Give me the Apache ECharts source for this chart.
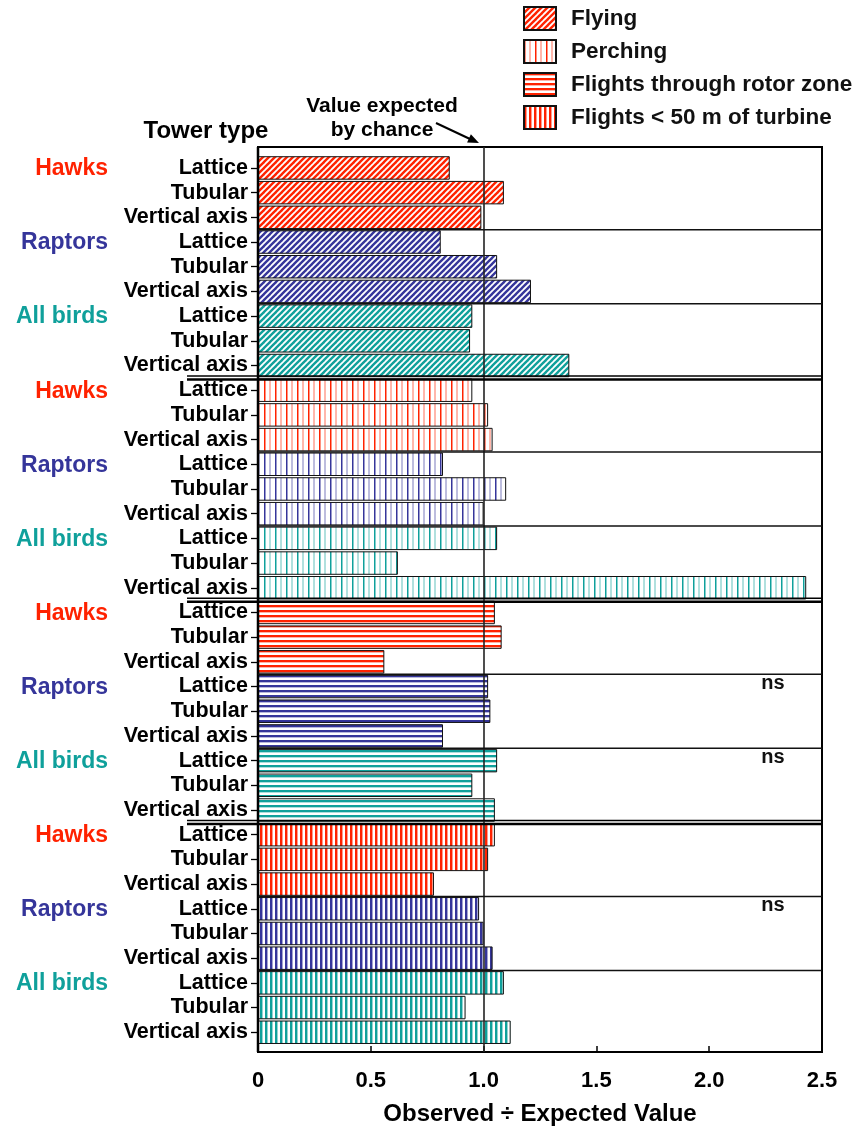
<!DOCTYPE html>
<html>
<head>
<meta charset="utf-8">
<script src="https://cdn.jsdelivr.net/npm/echarts@6/dist/echarts.min.js"></script>
<style>
  html, body { margin: 0; padding: 0; background: #fff; }
  #chart { width: 855px; height: 1128px; }
</style>
</head>
<body>
<div id="chart"></div>
<script>
// ---- data ----
const towerTypes = ['Lattice', 'Tubular', 'Vertical axis'];
const birdGroups = ['Hawks', 'Raptors', 'All birds'];
const behaviours = ['Flying', 'Perching', 'Flights through rotor zone', 'Flights < 50 m of turbine'];
// Observed ÷ expected; order: Hawks (L, T, V), Raptors (L, T, V), All birds (L, T, V)
const flying    = [0.85, 1.09, 0.99, 0.81, 1.06, 1.21, 0.95, 0.94, 1.38];
const perching  = [0.95, 1.02, 1.04, 0.82, 1.10, 1.00, 1.06, 0.62, 2.43];
const rotorZone = [1.05, 1.08, 0.56, 1.02, 1.03, 0.82, 1.06, 0.95, 1.05];
const within50m = [1.05, 1.02, 0.78, 0.98, 1.00, 1.04, 1.09, 0.92, 1.12];
// groups that are not significant: [behaviour index, bird group index]
const notSignificant = [[2, 1], [2, 2], [3, 1]];
const xTicks = [0, 0.5, 1.0, 1.5, 2.0, 2.5];
const expectedRatio = 1.0;

// ---- styling ----
const FONT = '"Liberation Sans", Arial, Helvetica, sans-serif';
const groupColors = ['#ff2200', '#35359a', '#0fa09b'];
const hatchKinds = ['diagonal', 'thinVertical', 'horizontal', 'denseVertical'];

function makePattern(kind, color) {
  const c = document.createElement('canvas');
  let w = 6, h = 6;
  if (kind === 'thinVertical') { w = 11; h = 4; }
  if (kind === 'horizontal') { w = 4; h = 5; }
  if (kind === 'denseVertical') { w = 5; h = 4; }
  c.width = w; c.height = h;
  const ctx = c.getContext('2d');
  ctx.fillStyle = '#ffffff';
  ctx.fillRect(0, 0, w, h);
  ctx.fillStyle = color;
  ctx.strokeStyle = color;
  if (kind === 'diagonal') {
    ctx.lineWidth = 2.4;
    for (let k = -1; k <= 1; k++) {
      ctx.beginPath();
      ctx.moveTo(k * w - 1, h + 1);
      ctx.lineTo(k * w + w + 1, -1);
      ctx.stroke();
    }
  } else if (kind === 'thinVertical') {
    ctx.fillRect(0, 0, 1.5, h);
    ctx.globalAlpha = 0.65;
    ctx.fillRect(5.5, 0, 1, h);
  } else if (kind === 'horizontal') {
    ctx.fillRect(0, 0, w, 2);
    ctx.globalAlpha = 0.35;
    ctx.fillRect(0, 2, w, 1);
  } else {
    ctx.fillRect(0, 0, 2, h);
    ctx.globalAlpha = 0.45;
    ctx.fillRect(2, 0, 1, h);
  }
  return { image: c, repeat: 'repeat' };
}

const patterns = hatchKinds.map(k => groupColors.map(col => makePattern(k, col)));

// ---- rows: behaviour panel -> bird group -> tower type ----
const panels = [flying, perching, rotorZone, within50m];
const rowsPerGroup = towerTypes.length;
const rowsPerPanel = birdGroups.length * rowsPerGroup;
const rowKeys = [];
const rowTower = [];
panels.forEach((_, p) => birdGroups.forEach((g, gi) => towerTypes.forEach(t => {
  rowKeys.push(behaviours[p] + ' | ' + g + ' | ' + t);
  rowTower.push(t);
})));

const barSeries = panels.map((vals, p) => ({
  name: behaviours[p],
  type: 'bar',
  xAxisIndex: 1,
  yAxisIndex: 1,
  barWidth: '95%',
  barGap: '-100%',
  itemStyle: { color: patterns[p][0], borderColor: '#111', borderWidth: 1 },
  emphasis: { disabled: true },
  data: rowKeys.map((_, r) => {
    if (Math.floor(r / rowsPerPanel) !== p) return '-';
    const k = r % rowsPerPanel;
    const g = Math.floor(k / rowsPerGroup);
    return { value: vals[k], itemStyle: { color: patterns[p][g] } };
  })
}));

const chart = echarts.init(document.getElementById('chart'), null, { renderer: 'canvas' });

const option = {
  animation: false,
  backgroundColor: '#ffffff',
  legend: {
    data: behaviours,
    orient: 'vertical',
    left: 518,
    top: 1,
    icon: 'rect',
    itemWidth: 32,
    itemHeight: 23,
    itemGap: 8,
    selectedMode: false,
    textStyle: { fontFamily: FONT, fontSize: 22.5, fontWeight: 'bold', color: '#111', padding: [0, 0, 0, 10] }
  },
  grid: [
    // outer frame holding the value axis
    { left: 258, top: 147, width: 564, height: 905, containLabel: false, outerBoundsMode: 'none',
      show: true, borderColor: '#000', borderWidth: 2, backgroundColor: 'transparent' },
    // bar rows
    { left: 258, top: 155.6, width: 564, height: 889, containLabel: false, outerBoundsMode: 'none' }
  ],
  xAxis: [
    {
      gridIndex: 0, type: 'value',
      min: xTicks[0], max: xTicks[xTicks.length - 1], interval: xTicks[1] - xTicks[0],
      axisLine: { show: false },
      axisTick: { show: true, inside: true, length: 6, lineStyle: { color: '#000', width: 1.5 } },
      splitLine: { show: false },
      axisLabel: {
        margin: 18, fontFamily: FONT, fontSize: 22, fontWeight: 'bold', color: '#000',
        formatter: v => (v === 0 ? '0' : v.toFixed(1))
      },
      name: 'Observed ÷ Expected Value',
      nameLocation: 'middle',
      nameGap: 50,
      nameTextStyle: { fontFamily: FONT, fontSize: 24, fontWeight: 'bold', color: '#000' }
    },
    {
      gridIndex: 1, type: 'value',
      min: xTicks[0], max: xTicks[xTicks.length - 1],
      show: false
    }
  ],
  yAxis: [
    { gridIndex: 0, type: 'value', min: 0, max: 1, show: false },
    {
      gridIndex: 1, type: 'category', inverse: true,
      data: rowKeys,
      axisLine: { show: false },
      axisTick: { show: true, alignWithLabel: true, length: 7, lineStyle: { color: '#000', width: 1.3 } },
      axisLabel: {
        interval: 0, margin: 10,
        fontFamily: FONT, fontSize: 21.5, fontWeight: 'bold', color: '#000',
        formatter: (v, i) => rowTower[i]
      }
    }
  ],
  series: barSeries.concat([{
    name: 'expected',
    type: 'line',
    xAxisIndex: 0,
    yAxisIndex: 0,
    data: [],
    markLine: {
      silent: true,
      symbol: ['none', 'none'],
      label: { show: false },
      lineStyle: { color: '#222', width: 1.6, type: 'solid' },
      data: [{ xAxis: expectedRatio }]
    }
  }])
};

chart.setOption(option);

// ---- overlay: separators, group names, notes ----
const rowY = i => chart.convertToPixel({ yAxisIndex: 1 }, i);
const between = i => (rowY(i) + rowY(i + 1)) / 2;
const xLeft = chart.convertToPixel({ xAxisIndex: 1 }, xTicks[0]);
const xRight = chart.convertToPixel({ xAxisIndex: 1 }, xTicks[xTicks.length - 1]);
const frameTop = chart.convertToPixel({ yAxisIndex: 0 }, 1);
const frameBottom = chart.convertToPixel({ yAxisIndex: 0 }, 0);

const g = [];
const line = (x1, y1, x2, y2, w, c) => g.push({
  type: 'line', z: 20, silent: true,
  shape: { x1, y1, x2, y2 },
  style: { stroke: c || '#000', lineWidth: w }
});
const text = (x, y, s, font, color, align) => g.push({
  type: 'text', z: 20, silent: true, x, y,
  style: {
    text: s, font, fill: color || '#000',
    align: align || 'center', verticalAlign: 'middle',
    textAlign: align || 'center', textVerticalAlign: 'middle'
  }
});

// left axis line
line(xLeft, frameTop, xLeft, frameBottom, 2.5);

for (let p = 0; p < panels.length; p++) {
  const base = p * rowsPerPanel;
  // thin lines between bird groups
  for (let gi = 1; gi < birdGroups.length; gi++) {
    const y = between(base + gi * rowsPerGroup - 1);
    line(xLeft, y, xRight, y, 1.4, '#111');
  }
  // double rule between behaviour panels
  if (p < panels.length - 1) {
    const y = between(base + rowsPerPanel - 1);
    line(187, y - 1.8, xRight, y - 1.8, 1.6);
    line(187, y + 1.6, xRight, y + 1.6, 2.4);
  }
  // bird group names
  birdGroups.forEach((name, gi) => {
    text(108, rowY(base + gi * rowsPerGroup) + 1, name, 'bold 23px ' + FONT, groupColors[gi], 'right');
  });
}

notSignificant.forEach(([p, gi]) => {
  text(773, rowY(p * rowsPerPanel + gi * rowsPerGroup) - 3, 'ns', 'bold 20px ' + FONT, '#111');
});

text(206, 131, 'Tower type', 'bold 24px ' + FONT, '#000');
text(382, 106, 'Value expected', 'bold 21px ' + FONT, '#000');
text(382, 130, 'by chance', 'bold 21px ' + FONT, '#000');

// arrow pointing to the expected-value line
line(436, 123, 470, 139, 2);
g.push({
  type: 'polygon', z: 20, silent: true,
  shape: { points: [[479, 143], [467.1, 142.5], [470.9, 134.3]] },
  style: { fill: '#000' }
});

chart.setOption({ graphic: { elements: g } });
</script>
</body>
</html>
